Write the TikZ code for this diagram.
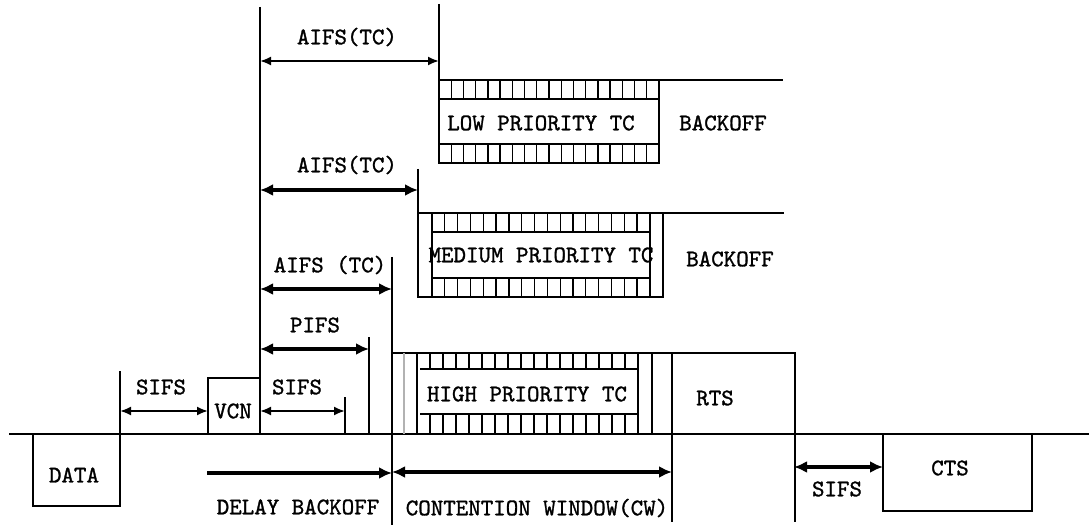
\documentclass[tikz,border=0pt]{standalone}
\usepackage{fontspec}
\newfontfamily\labelfont{lmmono10-regular}[Extension=.otf, FakeBold=1.2]
\usetikzlibrary{arrows.meta}

\begin{document}
\begin{tikzpicture}[x=1pt, y=-1pt, >={Latex[length=12pt, width=10pt]},
    edge/.style={line width=1.7pt},
    hatch/.style={line width=1.3pt},
    dimline/.style={<->, line width=2pt, >={Latex[length=11pt, width=9pt]}},
    dimbold/.style={<->, line width=3.5pt, >={Latex[length=13pt, width=12pt]}},
    lbl/.style={font=\labelfont\fontsize{23.8}{24}\selectfont, inner sep=0pt}]

    \useasboundingbox (0,0) rectangle (1089,529);

    % ==========================================
    % MEDIUM: the time axis and the DATA frame
    % ==========================================
    \draw[edge] (9,434) -- (1089,434);
    \draw[edge] (120,371) -- (120,506) -- (33,506) -- (33,434);
    \node[lbl] (data) at (74,475) {DATA};

    % SIFS before the VCN
    \draw[dimline] (120,411) -- (208,411);
    \node[lbl] (sifsA) at (161,387) {SIFS};

    % VCN slot
    \draw[edge] (208,434) -- (208,378) -- (260,378);
    \node[lbl] (vcn) at (233,411) {VCN};

    % Reference line where every interframe space starts
    \draw[edge] (260,7) -- (260,434);

    % ==========================================
    % INTERFRAME SPACES
    % ==========================================
    \draw[dimline] (260,411) -- (345,411);
    \draw[edge] (345,397) -- (345,434);
    \node[lbl] (sifsB) at (297,387) {SIFS};

    \draw[dimbold] (260,349) -- (369,349);
    \draw[edge] (369,337) -- (369,434);
    \node[lbl] (pifs) at (315,325) {PIFS};

    \draw[dimbold] (260,289) -- (392,289);
    \draw[edge] (392,257) -- (392,525);
    \node[lbl] (aifsHigh) at (330,265) {AIFS (TC)};

    \draw[dimbold] (260,190) -- (418,190);
    \draw[edge] (418,169) -- (418,297);
    \node[lbl] (aifsMed) at (347,165) {AIFS(TC)};

    \draw[dimline] (260,61) -- (439,61);
    \draw[edge] (439,4) -- (439,163);
    \node[lbl] (aifsLow) at (347,37) {AIFS(TC)};

    % ==========================================
    % LOW PRIORITY TC
    % ==========================================
    \draw[edge] (439,80) -- (783,80);
    \draw[edge] (439,163) rectangle (659,80);
    \draw[edge] (439,99) -- (659,99);
    \draw[edge] (439,144) -- (659,144);
    \foreach \i in {1,...,17} {
        \draw[hatch] ({439+\i*12.22},80) -- ++(0,19);
        \draw[hatch] ({439+\i*12.22},144) -- ++(0,19);
    }
    \node[lbl] (low) at (541,123) {LOW PRIORITY TC};
    \node[lbl] (boLow) at (723,123) {BACKOFF};

    % ==========================================
    % MEDIUM PRIORITY TC
    % ==========================================
    \draw[edge] (418,213) -- (784,213);
    \draw[edge] (418,297) rectangle (663,213);
    \draw[edge] (432,213) -- (432,297);
    \draw[edge] (650,213) -- (650,297);
    \draw[edge] (432,232) -- (650,232);
    \draw[edge] (432,278) -- (650,278);
    \foreach \i in {1,...,16} {
        \draw[hatch] ({432+\i*12.82},213) -- ++(0,19);
        \draw[hatch] ({432+\i*12.82},278) -- ++(0,19);
    }
    \node[lbl] (med) at (541,255) {MEDIUM PRIORITY TC};
    \node[lbl] (boMed) at (730,259) {BACKOFF};

    % ==========================================
    % HIGH PRIORITY TC and RTS
    % ==========================================
    \draw[edge] (392,353) -- (795,353) -- (795,522);
    \draw[edge] (672,353) -- (672,522);
    \draw[hatch, gray!60] (404,353) -- (404,434);
    \draw[edge] (417,353) -- (417,434);
    \draw[edge] (638,353) -- (638,434);
    \draw[edge] (652,353) -- (652,434);
    \draw[edge] (420,369) -- (637,369);
    \draw[edge] (420,414) -- (637,414);
    \foreach \i in {1,...,16} {
        \draw[hatch] ({417+\i*13},353) -- ++(0,16);
        \draw[hatch] ({417+\i*13},414) -- ++(0,20);
    }
    \node[lbl] (high) at (527,394) {HIGH PRIORITY TC};
    \node[lbl] (rts) at (715,398) {RTS};

    % ==========================================
    % BACKOFF WINDOWS BELOW THE AXIS
    % ==========================================
    \draw[->, line width=3.5pt, >={Latex[length=13pt, width=12pt]}] (207,473) -- (392,473);
    \node[lbl] (delay) at (298,507) {DELAY BACKOFF};

    \draw[dimbold] (392,472) -- (672,472);
    \node[lbl] (cw) at (537,508) {CONTENTION WINDOW(CW)};

    % SIFS before the CTS
    \draw[dimbold] (794,467) -- (883,467);
    \node[lbl] (sifsC) at (837,489) {SIFS};

    \draw[edge] (883,434) -- (883,511) -- (1032,511) -- (1032,434);
    \node[lbl] (cts) at (950,468) {CTS};

\end{tikzpicture}
\end{document}
